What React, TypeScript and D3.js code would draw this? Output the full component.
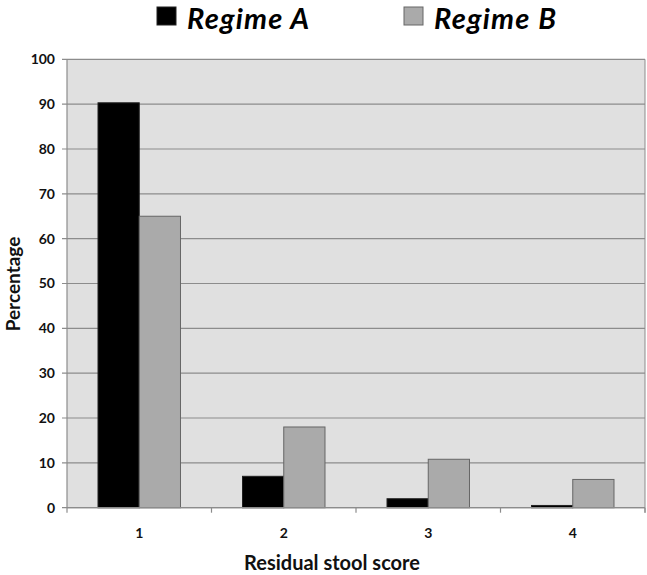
import React from "react";
import * as d3 from "d3";

const categories = ["1", "2", "3", "4"];
const seriesNames = ["Regime A", "Regime B"];
const regimeA = [90.3, 7.0, 2.0, 0.5];
const regimeB = [65.0, 18.0, 10.8, 6.3];
const yTicks = [0, 10, 20, 30, 40, 50, 60, 70, 80, 90, 100];

const W = 647, H = 575;
const left = 67, right = 645, top = 59.3, bottom = 507.7;
const font = "Lato, 'Open Sans', 'DejaVu Sans', sans-serif";

export default function App() {
  const x = d3.scaleBand<string>().domain(categories).range([left, right]).paddingInner(0).paddingOuter(0);
  const y = d3.scaleLinear().domain([0, 100]).range([bottom, top]);
  const inner = d3.scaleBand<string>().domain(seriesNames).range([0, x.bandwidth()]).paddingOuter(0.752).paddingInner(0);
  const colors = ["#000000", "#aaaaaa"];
  const strokes = ["#222222", "#666666"];
  const data = [regimeA, regimeB];
  const boundaries = d3.range(categories.length + 1).map((i) => left + i * x.bandwidth());

  return (
    <svg width={W} height={H} style={{ position: "absolute", left: 0, top: 0, background: "#fff" }}>
      <rect x={left} y={top} width={right - left} height={bottom - top} fill="#e0e0e0" />
      {yTicks.map((t) => (
        <g key={t}>
          <line x1={left - 5} x2={right} y1={y(t)} y2={y(t)} stroke="#8c8c8c" strokeWidth={1.2} />
          <text x={left - 12} y={y(t)} dy="0.35em" textAnchor="end" fontFamily={font} fontWeight="bold" fontSize={14} fill="#111">{t}</text>
        </g>
      ))}
      <line x1={left} x2={left} y1={top} y2={bottom} stroke="#8c8c8c" strokeWidth={1.2} />
      <line x1={right} x2={right} y1={top} y2={bottom + 5} stroke="#8c8c8c" strokeWidth={1} />
      {boundaries.map((b, i) => (
        <line key={i} x1={b} x2={b} y1={bottom} y2={bottom + 5} stroke="#8c8c8c" strokeWidth={1.2} />
      ))}
      {categories.map((c, ci) =>
        data.map((s, si) => (
          <rect key={c + si}
            x={(x(c) as number) + (inner(seriesNames[si]) as number)}
            y={y(s[ci])}
            width={inner.bandwidth()}
            height={bottom - y(s[ci])}
            fill={colors[si]} stroke={strokes[si]} strokeWidth={1} />
        ))
      )}
      <line x1={left} x2={right} y1={bottom} y2={bottom} stroke="#8c8c8c" strokeWidth={1.2} />
      {categories.map((c) => (
        <text key={c} x={(x(c) as number) + x.bandwidth() / 2} y={538} textAnchor="middle" fontFamily={font} fontWeight="bold" fontSize={14} fill="#111">{c}</text>
      ))}
      <text x={332} y={570} textAnchor="middle" fontFamily={font} fontWeight="bold" fontSize={20} fill="#111">Residual stool score</text>
      <text transform={`translate(20,284) rotate(-90)`} textAnchor="middle" fontFamily={font} fontWeight="bold" fontSize={19} fill="#111">Percentage</text>
      {seriesNames.map((n, i) => {
        const lx = [157, 404][i];
        return (
          <g key={n}>
            <rect x={lx} y={7} width={19} height={18} fill={colors[i]} stroke={strokes[i]} strokeWidth={1} />
            <text x={lx + 30} y={29} fontFamily={font} fontWeight="bold" fontStyle="italic" fontSize={29} letterSpacing={1.2} fill="#000">{n}</text>
          </g>
        );
      })}
    </svg>
  );
}
